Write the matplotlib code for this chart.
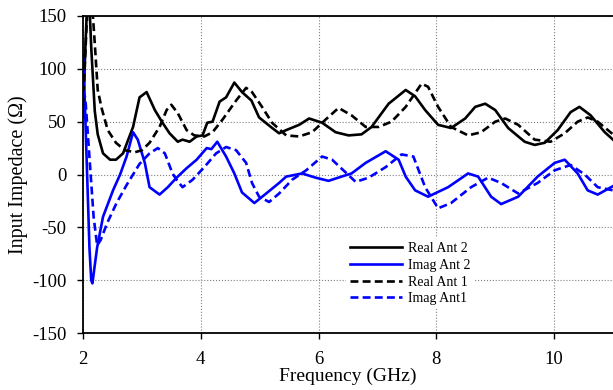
import numpy as np
import matplotlib
matplotlib.use("Agg")
import matplotlib.pyplot as plt

plt.rcParams['font.family'] = ['Liberation Serif', 'DejaVu Serif']
plt.rcParams['axes.unicode_minus'] = False

# Real Ant 2 (solid black)
freq_r2 = [2.00, 2.04, 2.08, 2.11, 2.14, 2.20, 2.25, 2.34, 2.46, 2.56, 2.68, 2.85, 2.96,
           3.08, 3.22, 3.35, 3.47, 3.61, 3.69, 3.81, 3.93, 4.03, 4.11, 4.20, 4.32, 4.43,
           4.57, 4.70, 4.86, 4.99, 5.19, 5.33, 5.45, 5.67, 5.84, 6.06, 6.29, 6.51, 6.73,
           6.90, 7.19, 7.48, 7.64, 7.81, 8.03, 8.25, 8.49, 8.66, 8.83, 9.00, 9.22, 9.50,
           9.67, 9.84, 10.06, 10.28, 10.43, 10.62, 10.86, 11.00]
real_ant2 = [55, 120, 175, 160, 120, 60, 38, 20, 14, 14, 20, 45, 73,
             78, 61, 49, 39, 31, 33, 31, 36, 37, 49, 50, 69, 73,
             87, 78, 70, 54, 45, 39, 42, 47, 53, 49, 40, 37, 38,
             45, 67, 80, 74, 61, 47, 44, 53, 64, 67, 61, 44, 31,
             28, 30, 42, 59, 64, 56, 40, 33]

# Imag Ant 2 (solid blue)
freq_i2 = [2.00, 2.03, 2.07, 2.11, 2.14, 2.16, 2.19, 2.24, 2.34, 2.51, 2.63, 2.74, 2.85,
           2.93, 3.05, 3.13, 3.30, 3.44, 3.59, 3.76, 3.93, 4.10, 4.18, 4.28, 4.43, 4.57,
           4.70, 4.91, 5.11, 5.33, 5.45, 5.72, 5.95, 6.17, 6.39, 6.56, 6.80, 7.14, 7.36,
           7.48, 7.64, 7.86, 8.20, 8.54, 8.71, 8.93, 9.10, 9.39, 9.72, 10.01, 10.18, 10.40,
           10.57, 10.74, 11.00]
imag_ant2 = [113, 70, 0, -70, -100, -103, -90, -69, -40, -15, 0, 17, 40,
             33, 11, -12, -19, -12, -3, 6, 14, 25, 24, 31, 17, 1,
             -17, -27, -18, -8, -2, 1, -3, -6, -2, 1, 11, 22, 14,
             -2, -15, -21, -12, 1, -2, -21, -28, -21, -2, 11, 14, 1,
             -15, -19, -11]

# Real Ant 1 (dashed black)
freq_r1 = [2.00, 2.06, 2.10, 2.15, 2.20, 2.25, 2.32, 2.42, 2.56, 2.71, 2.88, 3.00, 3.13,
           3.30, 3.42, 3.50, 3.61, 3.76, 3.89, 4.06, 4.20, 4.37, 4.60, 4.77, 4.87, 5.04,
           5.21, 5.45, 5.67, 5.89, 6.12, 6.34, 6.56, 6.80, 7.02, 7.24, 7.48, 7.75, 7.86,
           8.03, 8.25, 8.54, 8.76, 9.00, 9.17, 9.39, 9.67, 9.94, 10.18, 10.40, 10.57, 10.74,
           11.00]
real_ant1 = [65, 140, 175, 165, 124, 80, 62, 42, 30, 23, 21, 23, 30,
             45, 61, 66, 58, 42, 37, 36, 40, 52, 70, 82, 78, 64,
             49, 37, 36, 40, 52, 63, 56, 45, 45, 50, 64, 86, 83,
             64, 45, 37, 40, 50, 53, 47, 33, 31, 39, 50, 54, 50,
             38]

# Imag Ant1 (dashed blue)
freq_i1 = [2.00, 2.04, 2.08, 2.13, 2.18, 2.24, 2.30, 2.41, 2.57, 2.74, 2.85, 2.96, 3.13,
           3.27, 3.39, 3.52, 3.59, 3.69, 3.86, 4.06, 4.26, 4.43, 4.60, 4.77, 4.87, 4.99,
           5.16, 5.33, 5.55, 5.79, 6.06, 6.23, 6.46, 6.63, 6.85, 7.14, 7.41, 7.61, 7.81,
           8.03, 8.25, 8.59, 8.88, 9.10, 9.39, 9.72, 10.01, 10.28, 10.52, 10.74, 11.00]
imag_ant1 = [80, 72, 40, 0, -40, -67, -62, -46, -27, -10, 0, 10, 20,
             25, 20, 1, -5, -12, -5, 7, 20, 26, 23, 11, -8, -21,
             -26, -18, -5, 4, 17, 14, 2, -7, -3, 7, 19, 17, -12,
             -32, -27, -12, -3, -8, -18, -8, 4, 9, 0, -12, -15]

fig = plt.figure(figsize=(6.13, 3.9), dpi=100)
ax = fig.add_axes([83 / 613, 1 - 333 / 390, 530 / 613, 317 / 390])

lw = 1.9
kw = dict(lw=lw, solid_joinstyle='round', dash_joinstyle='round')
ax.plot(freq_r2, real_ant2, color='black', label='Real Ant 2', **kw)
ax.plot(freq_i2, imag_ant2, color='#0000ff', label='Imag Ant 2', **kw)
ax.plot(freq_r1, real_ant1, color='black', ls=(0, (3, 1.6)), label='Real Ant 1', **kw)
ax.plot(freq_i1, imag_ant1, color='#0000ff', ls=(0, (3, 1.6)), label='Imag Ant1', **kw)

ax.set_xlim(2, 11)
ax.set_ylim(-150, 150)
ax.set_xticks([2, 4, 6, 8, 10])
ax.set_yticks(np.arange(-150, 151, 50))
ax.grid(True, ls=':', color='#808080', lw=0.8)

for s in ['left', 'bottom', 'top']:
    ax.spines[s].set_linewidth(1.3)
ax.spines['right'].set_visible(False)
ax.tick_params(direction='out', length=4, width=1, labelsize=13.5)
ax.tick_params(axis='y', pad=8)
ax.tick_params(axis='x', pad=9)

ax.set_xlabel('Frequency (GHz)', fontsize=14, labelpad=0)
ax.set_ylabel('Input Impedace (Ω)', fontsize=14.5, labelpad=3)

leg = ax.legend(loc='upper left', bbox_to_anchor=(0.483, 0.322), fontsize=10,
                frameon=True, facecolor='white', edgecolor='none', framealpha=1,
                handlelength=3.75, handletextpad=0.4, labelspacing=0.27,
                borderpad=0.3, fancybox=False)

fig.savefig('out.png', dpi=100)
